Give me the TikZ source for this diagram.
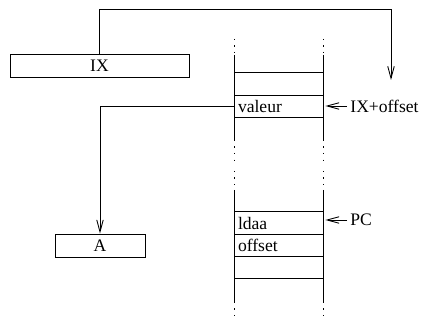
\documentclass[tikz,border=0pt]{standalone}
\usepackage{fontspec}
\setmainfont{Liberation Serif}
\usetikzlibrary{arrows.meta}

\begin{document}
\begin{tikzpicture}[x=0.2mm,y=-0.2mm,line width=0.5pt,
    >={Straight Barb[length=2.4mm,width=1.3mm]},
    reg/.style={draw,minimum height=4.6mm,inner sep=0pt},
    cell/.style={draw,minimum height=4.46mm,inner xsep=0.8mm,inner ysep=0pt,
      text width=16.2mm,align=left},
    lbl/.style={anchor=west,inner xsep=0.6mm,inner ysep=0pt},
    dots/.style={dash pattern=on 0.6pt off 3.1pt}]
  \useasboundingbox (0,0) rectangle (422,320);
  % registres
  \node[reg,minimum width=35.8mm] (ix) at (99.5,65.5) {IX};
  \node[reg,minimum width=18mm] (a) at (100,245.5) {A};
  % memoire, partie haute
  \draw (234,55)--(234,140) (323,55)--(323,140);
  \draw[dots] (234,39)--(234,55) (323,39)--(323,55);
  \draw[dots] (234,140)--(234,163) (323,140)--(323,163);
  \node[cell] (vide) at (278.5,84) {};
  \node[cell] (val) at (278.5,106.3) {valeur};
  % memoire, partie basse
  \draw[dots] (234,171)--(234,190) (323,171)--(323,190);
  \draw (234,190)--(234,302) (323,190)--(323,302);
  \draw[dots] (234,302)--(234,318) (323,302)--(323,318);
  \node[cell] (ldaa) at (278.5,223) {ldaa};
  \node[cell] (off) at (278.5,245.3) {offset};
  \node[cell] (vide2) at (278.5,267.6) {};
  % etiquettes
  \node[lbl] (ixoff) at (347,106) {IX+offset};
  \node[lbl] (pc) at (347,220) {PC};
  % fleches
  \coordinate (ixend) at (391,80);
  \draw[->] (ix.north) -- ++(0,-44) -| (ixend);
  \draw[->] (val.west) -| (a.north);
  \draw[->,shorten >=0.4mm] (ixoff.west) -- (ixoff.west -| val.east);
  \draw[->,shorten >=0.4mm] (pc.west) -- (pc.west -| ldaa.east);
\end{tikzpicture}
\end{document}
